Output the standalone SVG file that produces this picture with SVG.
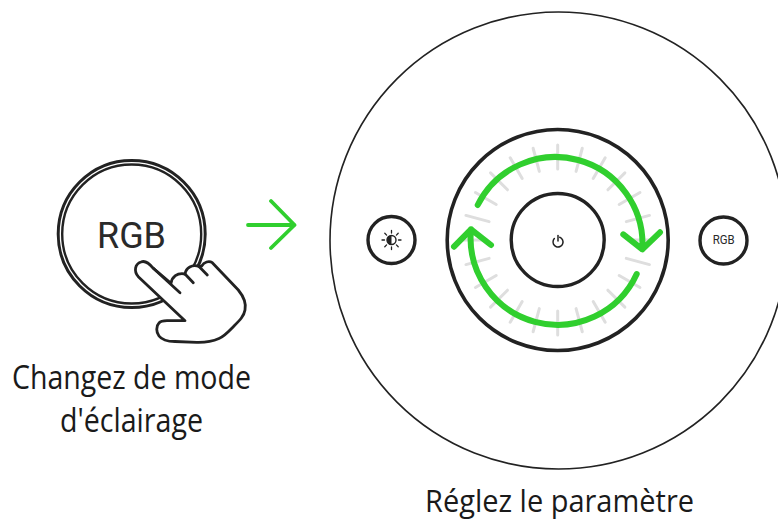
<svg xmlns="http://www.w3.org/2000/svg" width="778" height="520" viewBox="0 0 778 520">
<style>
.lbl{font-family:"Open Sans","Noto Sans",sans-serif;font-size:32.500px;fill:#1a1a1a}
.ui{font-family:"Roboto","Liberation Sans",sans-serif;fill:#2a2a2a}
.k{fill:none;stroke:#222;stroke-linecap:round;stroke-linejoin:round}
.g{fill:none;stroke:#30cf2e;stroke-linecap:round;stroke-linejoin:round}
.t{stroke:#dedede;stroke-width:3;stroke-linecap:round}
</style>
<defs><line id="tick" class="t" x1="0" y1="-71" x2="0" y2="-95"/></defs>
<rect width="778" height="520" fill="#fff"/>
<g id="rgb-button">
<circle class="k" cx="131.700" cy="234" r="73.500" stroke-width="3"/>
<circle class="k" cx="131.700" cy="234" r="69.500" stroke-width="2.400"/>
<text class="ui" x="97" y="247.500" font-size="37" textLength="69" lengthAdjust="spacingAndGlyphs">RGB</text>
</g>
<g id="hand">
<path d="M138.300 276.700C133.500 271 135 264 141 262C146 260 150 264.500 153.300 268.300L171 283.300C172 277 177 272.500 185 274C186 268 192 264 199 266.500L201.700 266C204 262 209 260.500 212.300 262.700L238.300 290C244 297 246.500 303 245 310C244 316 240 320 234 326C229 331 225 336 219 338.500C211 342 204 342.500 196.700 342.300L175 341.500C168 341.500 162 340 159 336C156 332 156 326 159 323C161 320.700 164 320.700 167 320.700L185 320.700Z" fill="#fff" stroke="#222" stroke-width="2.800" stroke-linejoin="round" stroke-linecap="round"/>
<path class="k" stroke-width="2.800" d="M153.300 268.300L180 292.700M185 274L193.300 282.700M199 266.500L207.300 275"/>
</g>
<g id="connectors"><path class="g" stroke-width="3.800" d="M248 225H294.500M271 201L294.500 225L271 248"/></g>
<g id="dial-background"><circle cx="558.500" cy="240.500" r="228.500" fill="none" stroke="#222" stroke-width="1.600"/></g>
<g id="dial">
<circle class="k" cx="557.700" cy="240" r="110.500" stroke-width="3.600"/>
<g transform="translate(557.700 240)">
<use href="#tick"/><use href="#tick" transform="rotate(15)"/><use href="#tick" transform="rotate(30)"/><use href="#tick" transform="rotate(45)"/><use href="#tick" transform="rotate(60)"/><use href="#tick" transform="rotate(75)"/><use href="#tick" transform="rotate(90)"/><use href="#tick" transform="rotate(105)"/><use href="#tick" transform="rotate(120)"/><use href="#tick" transform="rotate(135)"/><use href="#tick" transform="rotate(150)"/><use href="#tick" transform="rotate(165)"/><use href="#tick" transform="rotate(180)"/><use href="#tick" transform="rotate(195)"/><use href="#tick" transform="rotate(210)"/><use href="#tick" transform="rotate(225)"/><use href="#tick" transform="rotate(240)"/><use href="#tick" transform="rotate(255)"/><use href="#tick" transform="rotate(270)"/><use href="#tick" transform="rotate(285)"/><use href="#tick" transform="rotate(300)"/><use href="#tick" transform="rotate(315)"/><use href="#tick" transform="rotate(330)"/><use href="#tick" transform="rotate(345)"/>
</g>
<circle class="k" cx="557.700" cy="240" r="46.500" stroke-width="3.400" fill="#fff"/>
<circle class="k" cx="558" cy="242" r="5" stroke-width="1.500" stroke-dasharray="25 6.400" transform="rotate(-70 558 242)"/>
<path class="k" stroke-width="1.500" d="M558 235.500V241"/>
</g>
<g id="rotation-arrows">
<path class="g" stroke-width="6" d="M477.700 205A87 87 0 0 1 642.300 249.300M623.300 234.300L642.300 249.300L660 232.300"/>
<path class="g" stroke-width="6" d="M636.700 274A87 87 0 0 1 471 229.300M454 246.700L471 229.300L491 245"/>
</g>
<g id="brightness-button">
<circle class="k" cx="391.500" cy="240" r="23.500" stroke-width="3.400"/>
<circle cx="391.500" cy="240" r="4.500" fill="#fff" stroke="#222" stroke-width="1.400"/>
<path d="M391.500 235.500a4.500 4.500 0 0 0 0 9Z" fill="#222"/>
<path class="k" stroke-width="1.300" d="M391.500 230.500v2.500M391.500 247v2.500M382 240h2.500M398.500 240h2.500M384.800 233.300l1.800 1.800M396.400 244.900l1.800 1.800M398.200 233.300l-1.800 1.800M386.600 244.900l-1.800 1.800"/>
</g>
<g id="rgb-small-button">
<circle class="k" cx="723.500" cy="240.500" r="23.500" stroke-width="3.400"/>
<text class="ui" x="712.700" y="244.400" font-size="12" textLength="22" lengthAdjust="spacingAndGlyphs">RGB</text>
</g>
<g id="labels">
<text class="lbl" x="12" y="388.500" textLength="239" lengthAdjust="spacingAndGlyphs">Changez de mode</text>
<text class="lbl" x="60" y="432" textLength="143" lengthAdjust="spacingAndGlyphs">d'éclairage</text>
<text class="lbl" x="425" y="511.500" style="font-size:31px" textLength="269" lengthAdjust="spacingAndGlyphs">Réglez le paramètre</text>
</g>
</svg>
